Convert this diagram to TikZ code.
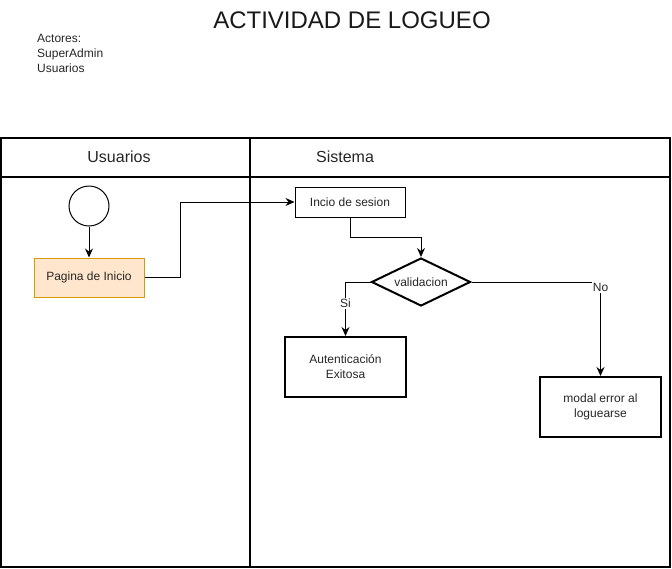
\documentclass[tikz,border=0pt]{standalone}
\usepackage{fontspec}
\setmainfont{Liberation Sans}
\usetikzlibrary{shapes.geometric,arrows.meta}
\tikzset{
  lane/.style={draw=black,line width=1.2pt},
  txt/.style={font=\fontsize{12}{15}\selectfont,align=center,text=black!85},
  hdr/.style={font=\fontsize{16}{18}\selectfont,text=black!85},
  plainbox/.style={draw=black,line width=1pt,minimum width=110pt,minimum height=30pt,inner sep=0pt,txt},
  thickbox/.style={draw=black,line width=2pt,minimum width=121pt,minimum height=60pt,inner sep=0pt,txt},
  arr/.style={line width=1pt,-{Stealth[length=9pt,width=8pt,inset=3pt]}},
  lbl/.style={font=\fontsize{12}{14}\selectfont,fill=white,inner sep=1pt,text=black!85}
}
\begin{document}
\begin{tikzpicture}[x=1pt,y=-1pt]
\useasboundingbox (0,0) rectangle (672,568);
% title and actors
\node[font=\fontsize{24}{28}\selectfont,text=black!90] (title) at (352,20) {ACTIVIDAD DE LOGUEO};
\node[txt,align=left,anchor=north west,inner sep=0pt] (actors) at (37,34) {Actores:\\SuperAdmin\\Usuarios};
% swimlanes
\draw[lane] (1,138) rectangle (670,567);
\draw[lane] (1,177) -- (670,177);
\draw[lane] (250,138) -- (250,567);
\node[hdr] (h1) at (119,157) {Usuarios};
\node[hdr] (h2) at (345,157) {Sistema};
% nodes
\node[draw=black,line width=1pt,circle,minimum size=40pt,inner sep=0pt] (start) at (89,206) {};
\node[txt,draw={rgb,255:red,215;green,155;blue,0},fill={rgb,255:red,255;green,230;blue,204},line width=1pt,minimum width=110pt,minimum height=39pt,inner sep=0pt] (pag) at (89,277.5) {Pagina de Inicio};
\node[plainbox] (inicio) at (350,202) {Incio de sesion};
\node[diamond,shape aspect=2,draw=black,line width=2pt,minimum width=99pt,minimum height=48pt,inner sep=0pt,txt] (val) at (421,282) {validacion};
\node[thickbox] (aut) at (345.5,367) {Autenticación\\Exitosa};
\node[thickbox] (err) at (600.5,407) {modal error al\\loguearse};
% connectors
\draw[arr] (start) -- (pag);
\draw[arr] (pag.east) -- ++(36,0) |- (inicio.west);
\draw[arr] (inicio.south) -- ++(0,20) -| (val.north);
\draw[arr] (val.west) -| node[lbl,pos=0.7] {Si} (aut.north);
\draw[arr] (val.east) -| node[lbl,pos=0.53] {No} (err.north);
\end{tikzpicture}
\end{document}
